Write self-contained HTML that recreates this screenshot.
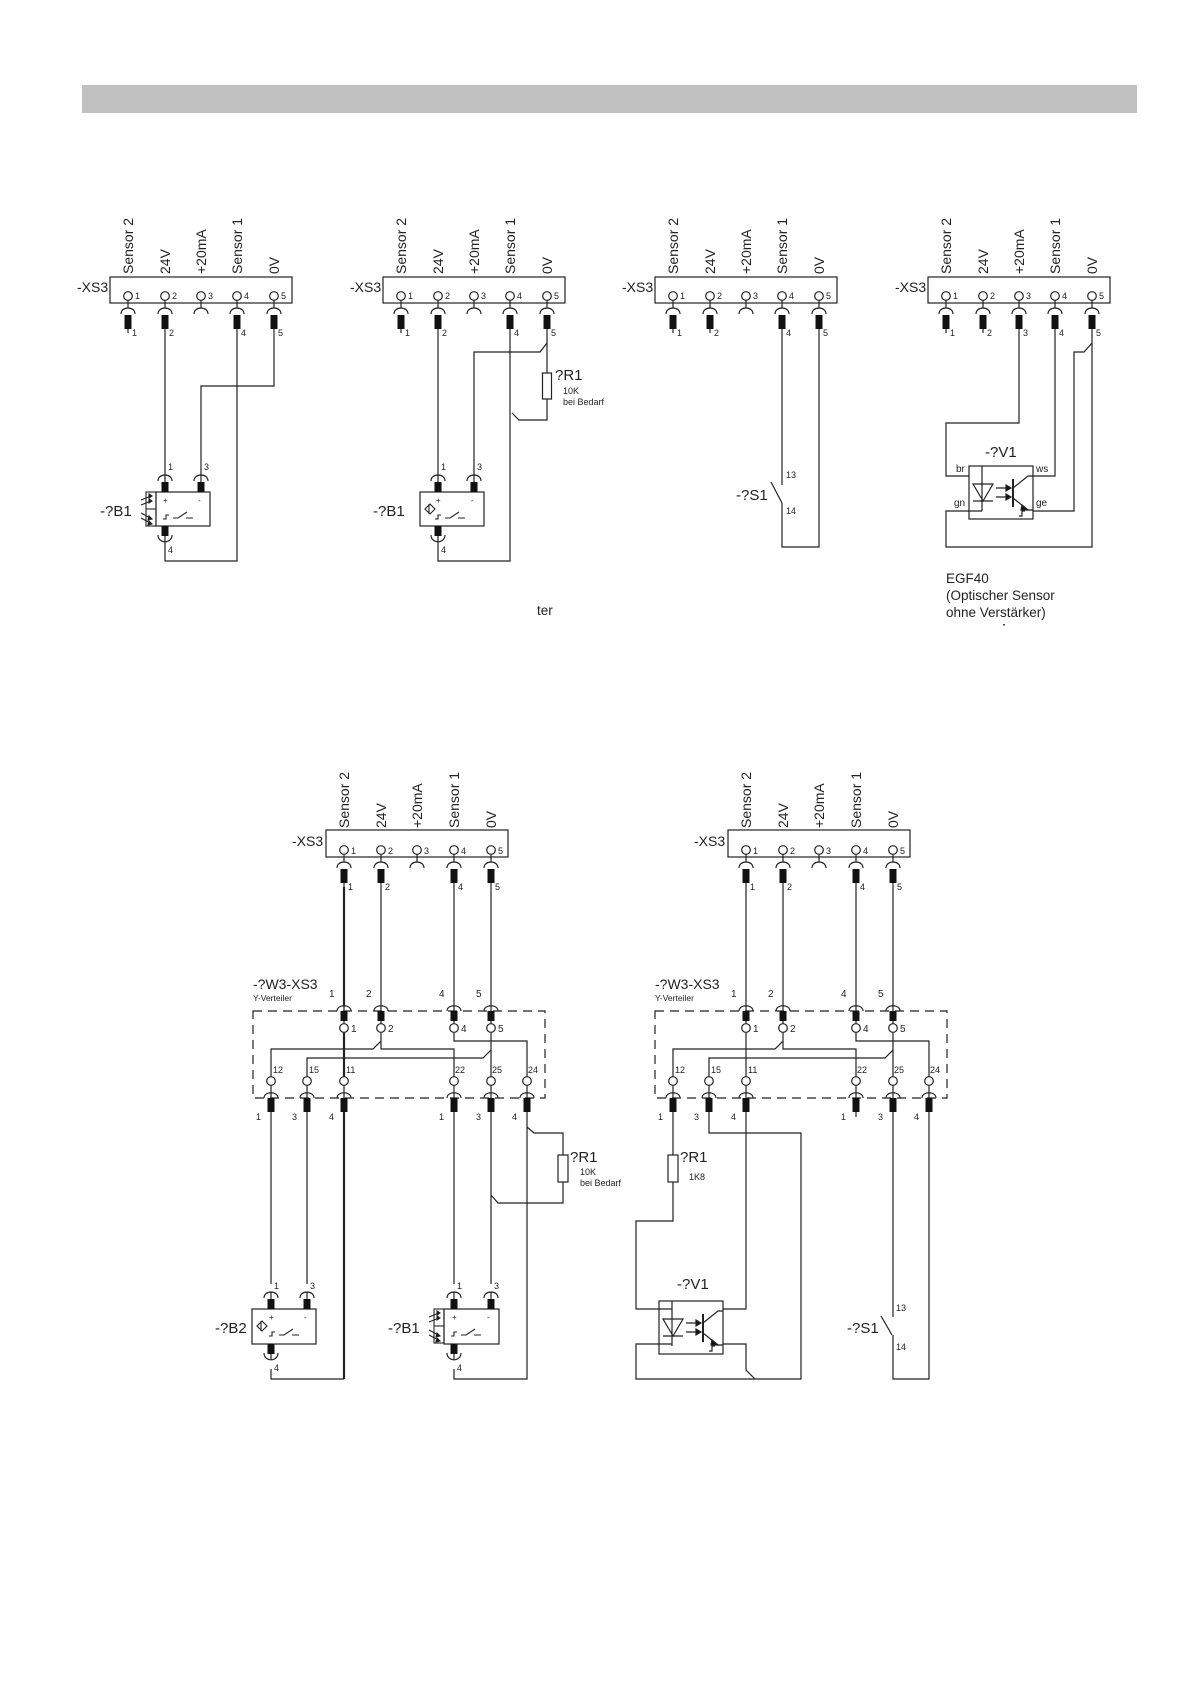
<!DOCTYPE html>
<html><head><meta charset="utf-8"><style>
html,body{margin:0;padding:0;background:#fff;}
svg{display:block;}
text{font-family:"Liberation Sans",sans-serif;fill:#222;}
</style></head><body>
<svg width="1192" height="1685" viewBox="0 0 1192 1685" xmlns="http://www.w3.org/2000/svg">
<defs>
<g id="tp" stroke="#222" stroke-width="1.2" fill="none">
 <circle cx="0" cy="-7" r="4.3" fill="#fff"/>
 <path d="M0,-2.7V5 M-7,11 C-7,3 7,3 7,11"/>
</g>
<g id="pl">
 <rect x="-3.5" y="12" width="7" height="14" fill="#111"/>
 <path d="M0,26V30" stroke="#222" stroke-width="1.2"/>
</g>
<g id="sc" stroke="#222" stroke-width="1.2" fill="none">
 <path d="M-7,-11 C-7,-19 7,-19 7,-11 M0,-17V-10"/>
 <rect x="-3.5" y="-10" width="7" height="10" fill="#111" stroke="none"/>
</g>
<g id="sb" stroke="#222" stroke-width="1.2" fill="none">
 <rect x="-3.5" y="0" width="7" height="10" fill="#111" stroke="none"/>
 <path d="M-7,9 C-7,18 7,18 7,9 M0,10V15"/>
</g>
<g id="yt" stroke="#222" stroke-width="1.2" fill="none">
 <path d="M-7,0 C-7,-7 7,-7 7,0 M0,-5V0"/>
 <rect x="-3.5" y="0" width="7" height="10" fill="#111" stroke="none"/>
 <path d="M0,10V13"/>
 <circle cx="0" cy="17" r="4.3" fill="#fff"/>
</g>
<g id="yb" stroke="#222" stroke-width="1.2" fill="none">
 <circle cx="0" cy="-17" r="4.3" fill="#fff"/>
 <path d="M0,-12.7V0 M-7,0 C-7,-7 7,-7 7,0"/>
 <rect x="-3.5" y="0" width="7" height="14" fill="#111" stroke="none"/>
</g>
<g id="sw" stroke="#222" stroke-width="1.1" fill="none">
 <path d="M7,27H10V23H13 M17,26H22L31,20 M30,26H37"/>
</g>
<g id="ind" stroke="#222" stroke-width="1.1" fill="none">
 <path d="M5,17L10,12L15,17L10,22Z M9,12V22"/>
</g>
<g id="em" stroke="#222" stroke-width="1.1" fill="none">
 <rect x="-10" y="0" width="10" height="34"/>
 <path d="M-10,17H0"/>
 <path d="M-15,8L-5,4 M-15,13L-5,9 M-15,21L-4,27 M-15,26L-4,32"/>
 <path d="M-7,2L-4,4L-7,6Z M-7,7L-4,9L-7,11Z M-7,24L-4,27L-8,28Z M-7,29L-4,32L-8,33Z" fill="#111"/>
</g>
<g id="v1" stroke="#222" stroke-width="1.2" fill="none">
 <rect x="0" y="0" width="64" height="53"/>
 <path d="M13,0V45 M4,18H24L14,35Z M4,35H24"/>
 <path d="M27,22H37 M27,31H37"/>
 <path d="M37,19L42,22L37,25Z M37,28L42,31L37,34Z" fill="#111"/>
 <path d="M44,13V41" stroke-width="2"/>
 <path d="M44,22L59,10H64 M44,32L59,44H64"/>
 <path d="M53,39L59,44L52,44Z" fill="#111"/>
 <path d="M50,50H53V45H56"/>
</g>
</defs>

<rect x="82" y="85" width="1055" height="28" fill="#c0c0c0"/>

<g stroke="#222" stroke-width="1.2" fill="none">
 <rect x="110" y="277" width="182" height="26"/>
 <rect x="383" y="277" width="182" height="26"/>
 <rect x="655" y="277" width="182" height="26"/>
 <rect x="928" y="277" width="182" height="26"/>
</g>
<g font-size="14">
 <text x="77" y="292">-XS3</text><text x="350" y="292">-XS3</text>
 <text x="622" y="292">-XS3</text><text x="895" y="292">-XS3</text>
</g>
<g font-size="14">
 <text transform="translate(133,274) rotate(-90)">Sensor 2</text>
 <text transform="translate(170,274) rotate(-90)">24V</text>
 <text transform="translate(206,274) rotate(-90)">+20mA</text>
 <text transform="translate(242,274) rotate(-90)">Sensor 1</text>
 <text transform="translate(279,274) rotate(-90)">0V</text>
 <text transform="translate(406,274) rotate(-90)">Sensor 2</text>
 <text transform="translate(443,274) rotate(-90)">24V</text>
 <text transform="translate(479,274) rotate(-90)">+20mA</text>
 <text transform="translate(515,274) rotate(-90)">Sensor 1</text>
 <text transform="translate(552,274) rotate(-90)">0V</text>
 <text transform="translate(678,274) rotate(-90)">Sensor 2</text>
 <text transform="translate(715,274) rotate(-90)">24V</text>
 <text transform="translate(751,274) rotate(-90)">+20mA</text>
 <text transform="translate(787,274) rotate(-90)">Sensor 1</text>
 <text transform="translate(824,274) rotate(-90)">0V</text>
 <text transform="translate(951,274) rotate(-90)">Sensor 2</text>
 <text transform="translate(988,274) rotate(-90)">24V</text>
 <text transform="translate(1024,274) rotate(-90)">+20mA</text>
 <text transform="translate(1060,274) rotate(-90)">Sensor 1</text>
 <text transform="translate(1097,274) rotate(-90)">0V</text>
</g>
<g transform="translate(0,303)">
 <use href="#tp" x="128"/><use href="#tp" x="165"/><use href="#tp" x="201"/><use href="#tp" x="237"/><use href="#tp" x="274"/>
 <use href="#pl" x="128"/><use href="#pl" x="165"/><use href="#pl" x="237"/><use href="#pl" x="274"/>
 <use href="#tp" x="401"/><use href="#tp" x="438"/><use href="#tp" x="474"/><use href="#tp" x="510"/><use href="#tp" x="547"/>
 <use href="#pl" x="401"/><use href="#pl" x="438"/><use href="#pl" x="510"/><use href="#pl" x="547"/>
 <use href="#tp" x="673"/><use href="#tp" x="710"/><use href="#tp" x="746"/><use href="#tp" x="782"/><use href="#tp" x="819"/>
 <use href="#pl" x="673"/><use href="#pl" x="710"/><use href="#pl" x="782"/><use href="#pl" x="819"/>
 <use href="#tp" x="946"/><use href="#tp" x="983"/><use href="#tp" x="1019"/><use href="#tp" x="1055"/><use href="#tp" x="1092"/>
 <use href="#pl" x="946"/><use href="#pl" x="983"/><use href="#pl" x="1019"/><use href="#pl" x="1055"/><use href="#pl" x="1092"/>
</g>
<g font-size="9">
 <text x="135" y="299">1</text><text x="172" y="299">2</text><text x="208" y="299">3</text><text x="244" y="299">4</text><text x="281" y="299">5</text>
 <text x="408" y="299">1</text><text x="445" y="299">2</text><text x="481" y="299">3</text><text x="517" y="299">4</text><text x="554" y="299">5</text>
 <text x="680" y="299">1</text><text x="717" y="299">2</text><text x="753" y="299">3</text><text x="789" y="299">4</text><text x="826" y="299">5</text>
 <text x="953" y="299">1</text><text x="990" y="299">2</text><text x="1026" y="299">3</text><text x="1062" y="299">4</text><text x="1099" y="299">5</text>
 <text x="132" y="336">1</text><text x="169" y="336">2</text><text x="241" y="336">4</text><text x="278" y="336">5</text>
 <text x="405" y="336">1</text><text x="442" y="336">2</text><text x="514" y="336">4</text><text x="551" y="336">5</text>
 <text x="677" y="336">1</text><text x="714" y="336">2</text><text x="786" y="336">4</text><text x="823" y="336">5</text>
 <text x="950" y="336">1</text><text x="987" y="336">2</text><text x="1023" y="336">3</text><text x="1059" y="336">4</text><text x="1096" y="336">5</text>
</g>

<g stroke="#222" stroke-width="1.2" fill="none">
 <path d="M165,333V475 M274,333V386H201V475 M237,333V561H165V541"/>
 <path d="M438,333V475 M547,333V343L540,352H474V475 M547,343V373 M547,399V420H519L512,413 M510,333V561H438V541"/>
 <rect x="542.5" y="373" width="9" height="26"/>
 <path d="M782,333V485 M771,482L782,503 M782,503V547H819V333"/>
 <path d="M1019,333V423H946V476H969 M1055,333V476H1033 M1092,333V343L1084,352H1074V511H1033 M1092,343V547H946V511H982"/>
</g>
<g stroke="#222" stroke-width="1.2" fill="none"><rect x="156" y="492" width="54" height="34"/></g>
<use href="#sc" x="165" y="492"/><use href="#sc" x="201" y="492"/><use href="#sb" x="165" y="526"/>
<use href="#sw" x="156" y="492"/><use href="#em" x="156" y="492"/>
<g font-size="8"><text x="163" y="503">+</text><text x="198" y="503">-</text></g>
<g stroke="#222" stroke-width="1.2" fill="none"><rect x="420" y="492" width="64" height="34"/></g>
<use href="#sc" x="438" y="492"/><use href="#sc" x="474" y="492"/><use href="#sb" x="438" y="526"/>
<use href="#sw" x="428" y="492"/><use href="#ind" x="420" y="492"/>
<g font-size="8"><text x="436" y="503">+</text><text x="471" y="503">-</text></g>
<use href="#v1" x="969" y="466"/>

<g font-size="9">
 <text x="168" y="470">1</text><text x="204" y="470">3</text><text x="168" y="553">4</text>
 <text x="441" y="470">1</text><text x="477" y="470">3</text><text x="441" y="553">4</text>
 <text x="786" y="478">13</text><text x="786" y="514">14</text>
</g>
<g font-size="15">
 <text x="100" y="516">-?B1</text>
 <text x="373" y="516">-?B1</text>
 <text x="736" y="500">-?S1</text>
 <text x="985" y="457">-?V1</text>
 <text x="555" y="380">?R1</text>
</g>
<g font-size="9"><text x="563" y="394">10K</text><text x="563" y="405">bei Bedarf</text></g>
<g font-size="10"><text x="956" y="472">br</text><text x="1036" y="472">ws</text><text x="954" y="506">gn</text><text x="1036" y="506">ge</text></g>
<g font-size="13.5">
 <text x="946" y="583">EGF40</text>
 <text x="946" y="600">(Optischer Sensor</text>
 <text x="946" y="617">ohne Verstärker)</text>
 <text x="537" y="615">ter</text>
</g>
<rect x="1003" y="624" width="2" height="1.5" fill="#444"/>

<g stroke="#222" stroke-width="1.2" fill="none">
 <rect x="326" y="830" width="182" height="27"/>
 <rect x="728" y="830" width="182" height="27"/>
 <rect x="253" y="1011" width="292" height="87" stroke-dasharray="9,6"/>
 <rect x="655" y="1011" width="292" height="87" stroke-dasharray="9,6"/>
</g>
<g font-size="14">
 <text x="292" y="846">-XS3</text><text x="694" y="846">-XS3</text>
 <text transform="translate(349,828) rotate(-90)">Sensor 2</text>
 <text transform="translate(386,828) rotate(-90)">24V</text>
 <text transform="translate(422,828) rotate(-90)">+20mA</text>
 <text transform="translate(459,828) rotate(-90)">Sensor 1</text>
 <text transform="translate(496,828) rotate(-90)">0V</text>
 <text transform="translate(751,828) rotate(-90)">Sensor 2</text>
 <text transform="translate(788,828) rotate(-90)">24V</text>
 <text transform="translate(824,828) rotate(-90)">+20mA</text>
 <text transform="translate(861,828) rotate(-90)">Sensor 1</text>
 <text transform="translate(898,828) rotate(-90)">0V</text>
 <text x="253" y="989">-?W3-XS3</text><text x="655" y="989">-?W3-XS3</text>
</g>
<g font-size="8.5"><text x="253" y="1001">Y-Verteiler</text><text x="655" y="1001">Y-Verteiler</text></g>
<g transform="translate(0,857)">
 <use href="#tp" x="344"/><use href="#tp" x="381"/><use href="#tp" x="417"/><use href="#tp" x="454"/><use href="#tp" x="491"/>
 <use href="#pl" x="344"/><use href="#pl" x="381"/><use href="#pl" x="454"/><use href="#pl" x="491"/>
 <use href="#tp" x="746"/><use href="#tp" x="783"/><use href="#tp" x="819"/><use href="#tp" x="856"/><use href="#tp" x="893"/>
 <use href="#pl" x="746"/><use href="#pl" x="783"/><use href="#pl" x="856"/><use href="#pl" x="893"/>
</g>
<g font-size="9">
 <text x="351" y="854">1</text><text x="388" y="854">2</text><text x="424" y="854">3</text><text x="461" y="854">4</text><text x="498" y="854">5</text>
 <text x="753" y="854">1</text><text x="790" y="854">2</text><text x="826" y="854">3</text><text x="863" y="854">4</text><text x="900" y="854">5</text>
 <text x="348" y="890">1</text><text x="385" y="890">2</text><text x="458" y="890">4</text><text x="495" y="890">5</text>
 <text x="750" y="890">1</text><text x="787" y="890">2</text><text x="860" y="890">4</text><text x="897" y="890">5</text>
</g>
<g transform="translate(0,1011)">
 <use href="#yt" x="344"/><use href="#yt" x="381"/><use href="#yt" x="454"/><use href="#yt" x="491"/>
 <use href="#yt" x="746"/><use href="#yt" x="783"/><use href="#yt" x="856"/><use href="#yt" x="893"/>
</g>
<g transform="translate(0,1098)">
 <use href="#yb" x="271"/><use href="#yb" x="307"/><use href="#yb" x="344"/><use href="#yb" x="454"/><use href="#yb" x="491"/><use href="#yb" x="527"/>
 <use href="#yb" x="673"/><use href="#yb" x="709"/><use href="#yb" x="746"/><use href="#yb" x="856"/><use href="#yb" x="893"/><use href="#yb" x="929"/>
</g>
<g font-size="10">
 <text x="329" y="997">1</text><text x="366" y="997">2</text><text x="439" y="997">4</text><text x="476" y="997">5</text>
 <text x="731" y="997">1</text><text x="768" y="997">2</text><text x="841" y="997">4</text><text x="878" y="997">5</text>
 <text x="351" y="1032">1</text><text x="388" y="1032">2</text><text x="461" y="1032">4</text><text x="498" y="1032">5</text>
 <text x="753" y="1032">1</text><text x="790" y="1032">2</text><text x="863" y="1032">4</text><text x="900" y="1032">5</text>
</g>
<g font-size="9">
 <text x="273" y="1073">12</text><text x="309" y="1073">15</text><text x="346" y="1073">11</text><text x="455" y="1073">22</text><text x="492" y="1073">25</text><text x="528" y="1073">24</text>
 <text x="675" y="1073">12</text><text x="711" y="1073">15</text><text x="748" y="1073">11</text><text x="857" y="1073">22</text><text x="894" y="1073">25</text><text x="930" y="1073">24</text>
 <text x="256" y="1120">1</text><text x="292" y="1120">3</text><text x="329" y="1120">4</text><text x="439" y="1120">1</text><text x="476" y="1120">3</text><text x="512" y="1120">4</text>
 <text x="658" y="1120">1</text><text x="694" y="1120">3</text><text x="731" y="1120">4</text><text x="841" y="1120">1</text><text x="878" y="1120">3</text><text x="914" y="1120">4</text>
</g>

<g stroke="#222" stroke-width="1.2" fill="none">
 <path d="M381,887V1006 M454,887V1006 M491,887V1006"/>
 <path d="M344,887V1006 M344,1032V1077 M344,1112V1379" stroke-width="2.2"/>
 <path d="M344,1379H271V1369"/>
 <path d="M381,1032V1041L373,1049H271V1077 M381,1041V1049H454V1077 M454,1032V1041H527V1077 M491,1032V1050L483,1058H307V1077 M491,1050V1077"/>
 <path d="M271,1112V1284 M307,1112V1284 M454,1112V1284 M491,1112V1284 M527,1112V1379H454V1369 M527,1127L534,1133H563V1155 M563,1182V1203H498L491,1195"/>
 <rect x="558" y="1155" width="10" height="27"/>
 <path d="M746,887V1006 M783,887V1006 M856,887V1006 M893,887V1006"/>
 <path d="M746,1032V1077 M783,1032V1041L775,1049H673V1077 M783,1041V1049H856V1077 M856,1032V1041H929V1077 M893,1032V1050L885,1058H709V1077 M893,1050V1077"/>
 <path d="M673,1112V1155 M673,1182V1221H636V1309H672 M746,1112V1309H723 M709,1112V1133H801V1379H755L746,1370V1344H723 M672,1344H636V1379H755"/>
 <rect x="668" y="1155" width="10" height="27"/>
 <path d="M856,1112V1117 M893,1112V1317 M881,1316L892,1335 M893,1335V1379H929V1112"/>
 <rect x="252" y="1309" width="64" height="35"/>
 <rect x="444" y="1309" width="55" height="35"/>
</g>
<use href="#sc" x="271" y="1309"/><use href="#sc" x="307" y="1309"/><use href="#sb" x="271" y="1344"/>
<use href="#sc" x="454" y="1309"/><use href="#sc" x="491" y="1309"/><use href="#sb" x="454" y="1344"/>
<use href="#sw" x="262" y="1309"/><use href="#ind" x="252" y="1309"/>
<use href="#sw" x="444" y="1309"/><use href="#em" x="444" y="1309"/>
<use href="#v1" x="659" y="1301"/>
<g font-size="8"><text x="269" y="1320">+</text><text x="304" y="1320">-</text><text x="452" y="1320">+</text><text x="487" y="1320">-</text></g>
<g font-size="9">
 <text x="274" y="1289">1</text><text x="310" y="1289">3</text><text x="274" y="1371">4</text>
 <text x="457" y="1289">1</text><text x="494" y="1289">3</text><text x="457" y="1371">4</text>
 <text x="896" y="1311">13</text><text x="896" y="1350">14</text>
</g>
<g font-size="15">
 <text x="215" y="1333">-?B2</text><text x="388" y="1333">-?B1</text>
 <text x="570" y="1162">?R1</text><text x="680" y="1162">?R1</text>
 <text x="677" y="1289">-?V1</text><text x="847" y="1333">-?S1</text>
</g>
<g font-size="9"><text x="580" y="1175">10K</text><text x="580" y="1186">bei Bedarf</text><text x="689" y="1180">1K8</text></g>
</svg>
</body></html>
